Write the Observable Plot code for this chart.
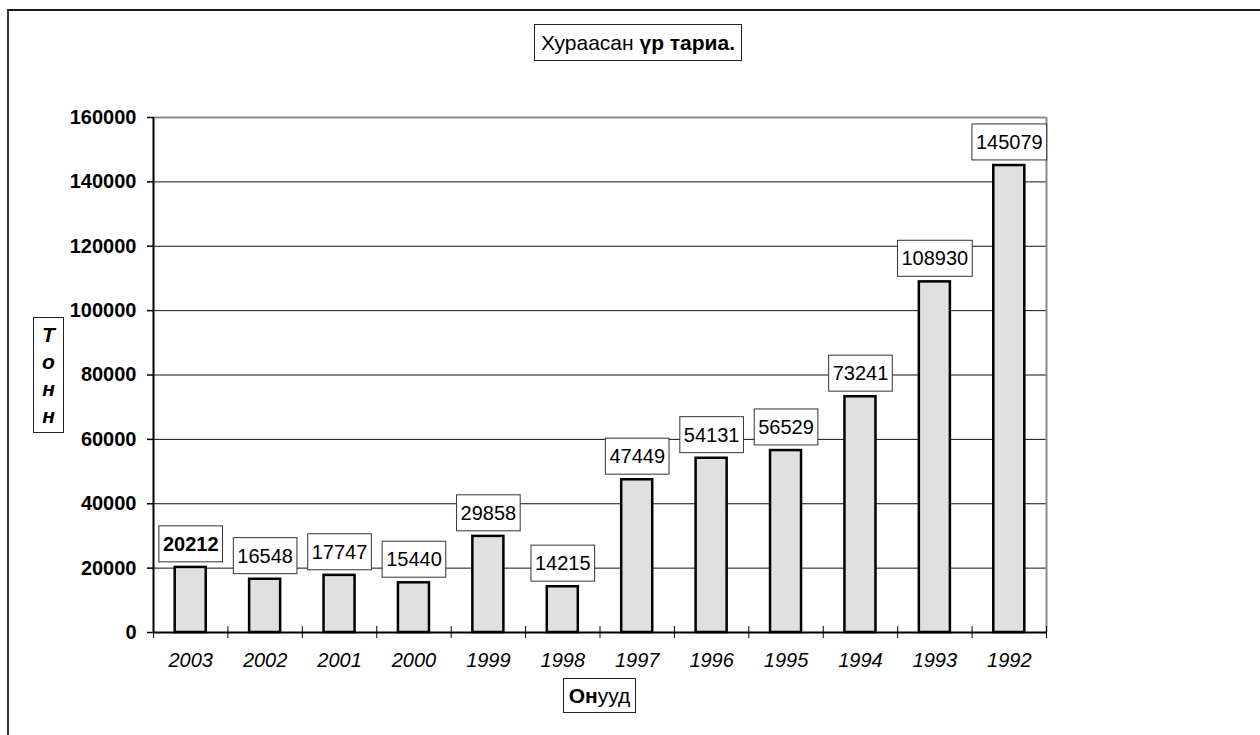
<!DOCTYPE html>
<html>
<head>
<meta charset="utf-8">
<script src="https://cdn.jsdelivr.net/npm/d3@7"></script>
<script src="https://cdn.jsdelivr.net/npm/@observablehq/plot@0.6"></script>
<style>
  html, body { margin: 0; padding: 0; background: #fff; overflow: hidden; }
  #wrap { position: relative; width: 1260px; height: 735px; overflow: hidden; font-family: "Liberation Sans", Arial, sans-serif; color: #000; }
  #wrap svg { position: absolute; left: 0; top: 0; }
  #frame { position: absolute; left: 7px; top: 9px; width: 1400px; height: 900px; border-top: 2px solid #1a1a1a; border-left: 2px solid #333; }
  .box { position: absolute; border: 1px solid #222; background: #fff; box-sizing: border-box; display: flex; align-items: center; justify-content: center; font-size: 21px; z-index: 2; }
  #title { left: 534px; top: 24px; width: 208px; height: 37px; white-space: nowrap; }
  #ylab { left: 33px; top: 317px; width: 31px; height: 116px; flex-direction: column; font-weight: bold; font-style: italic; font-size: 21px; line-height: 27px; }
  #xlab { left: 563px; top: 678px; width: 73px; height: 35px; }
</style>
</head>
<body>
<div id="wrap">
  <div id="frame"></div>
</div>
<script>
const years = ["2003", "2002", "2001", "2000", "1999", "1998", "1997", "1996", "1995", "1994", "1993", "1992"];
const values = [20212, 16548, 17747, 15440, 29858, 14215, 47449, 54131, 56529, 73241, 108930, 145079];
const yTicks = [0, 20000, 40000, 60000, 80000, 100000, 120000, 140000, 160000];
const titleText = ["Хураасан", "үр тариа."];
const yLabelText = "Тонн";
const xLabelText = ["Он", "ууд"];

const data = years.map((year, i) => ({ i, year, value: values[i] }));
const font = "'Liberation Sans', Arial, sans-serif";

const plot = Plot.plot({
  width: 1260,
  height: 735,
  marginLeft: 153,
  marginRight: 214,
  marginTop: 117,
  marginBottom: 103,
  style: { fontFamily: font, background: "transparent", color: "#000" },
  x: { domain: [0, years.length], axis: null, label: null },
  y: { domain: [0, 160000], axis: null, label: null },
  marks: [
    Plot.gridY(yTicks, { stroke: "#111", strokeOpacity: 1, strokeWidth: 1 }),
    Plot.ruleY([160000], { stroke: "#8a8a8a", strokeWidth: 2 }),
    Plot.ruleX([years.length], { stroke: "#8a8a8a", strokeWidth: 2 }),
    Plot.rect(data, {
      x1: d => d.i + 0.2915,
      x2: d => d.i + 0.7085,
      y1: 0,
      y2: "value",
      fill: "#e0e0e0",
      stroke: "#000",
      strokeWidth: 2.5
    }),
    Plot.ruleY([0], { stroke: "#000", strokeWidth: 2 }),
    Plot.ruleX([0], { stroke: "#000", strokeWidth: 2 }),
    Plot.axisY({
      ticks: yTicks, tickSize: 6, tickPadding: 11, tickFormat: d => String(d),
      fontSize: 20, fontWeight: "bold", stroke: "#000", strokeWidth: 1.5, label: null
    }),
    Plot.axisX({
      ticks: d3.range(years.length + 1), tickSize: 12, dy: -6, fill: "none",
      stroke: "#000", strokeWidth: 1, label: null
    }),
    Plot.axisX({
      ticks: data.map(d => d.i + 0.5), tickSize: 0, tickPadding: 20,
      tickFormat: t => years[Math.floor(t)], fontSize: 20, fontStyle: "italic", label: null
    }),
    Plot.text(data.filter(d => d.i === 0), {
      x: d => d.i + 0.5, y: "value", text: d => String(d.value), dy: -23,
      fontSize: 20, fontWeight: "bold", fill: "#000"
    }),
    Plot.text(data.filter(d => d.i > 0), {
      x: d => d.i + 0.5, y: "value", text: d => String(d.value), dy: -23,
      fontSize: 20, fill: "#000"
    })
  ]
});

const wrap = document.getElementById("wrap");
wrap.appendChild(plot);

// white boxes with a border behind the value labels
plot.querySelectorAll('g[aria-label="text"] text').forEach(t => {
  const b = t.getBBox();
  const r = document.createElementNS("http://www.w3.org/2000/svg", "rect");
  const padX = 4, padY = 7;
  r.setAttribute("x", b.x - padX);
  r.setAttribute("y", b.y - padY);
  r.setAttribute("width", b.width + 2 * padX);
  r.setAttribute("height", b.height + 2 * padY);
  r.setAttribute("fill", "#fff");
  r.setAttribute("stroke", "#333");
  r.setAttribute("stroke-width", "1");
  const tr = t.getAttribute("transform");
  if (tr) r.setAttribute("transform", tr);
  t.parentNode.insertBefore(r, t);
});

// title box
const title = document.createElement("div");
title.className = "box"; title.id = "title";
title.appendChild(document.createTextNode(titleText[0] + "\u00a0"));
const tb = document.createElement("b"); tb.textContent = titleText[1];
title.appendChild(tb);
wrap.appendChild(title);

// y label box (stacked letters)
const ylab = document.createElement("div");
ylab.className = "box"; ylab.id = "ylab";
for (const ch of yLabelText) {
  const s = document.createElement("span"); s.textContent = ch; ylab.appendChild(s);
}
wrap.appendChild(ylab);

// x label box
const xlab = document.createElement("div");
xlab.className = "box"; xlab.id = "xlab";
const xb = document.createElement("b"); xb.textContent = xLabelText[0];
xlab.appendChild(xb);
xlab.appendChild(document.createTextNode(xLabelText[1]));
wrap.appendChild(xlab);
</script>
</body>
</html>
